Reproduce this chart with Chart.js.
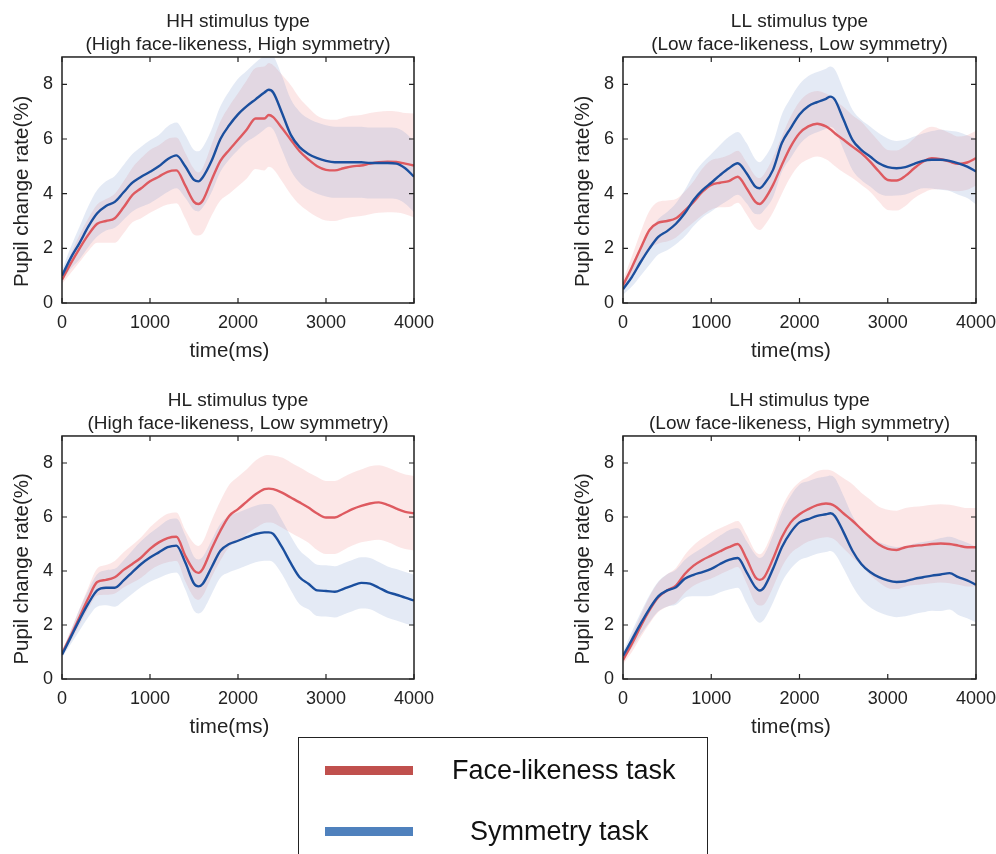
<!DOCTYPE html>
<html>
<head>
<meta charset="utf-8">
<script src="https://cdn.jsdelivr.net/npm/chart.js@4"></script>
<style>
  html, body { margin: 0; padding: 0; background: #fff; overflow: hidden; }
  body { width: 996px; height: 854px; position: relative; font-family: 'Liberation Sans', Arial, sans-serif; }
  .panel { position: absolute; }
  .legend {
    position: absolute; left: 298px; top: 737px; width: 410px; height: 140px;
    border: 1.5px solid #222; box-sizing: border-box;
  }
  .legend .bar { position: absolute; left: 26px; width: 88px; height: 9px; }
  .legend .txt { position: absolute; font-size: 27px; color: #111; line-height: 30px; white-space: nowrap; }
</style>
</head>
<body>

<div class="panel" style="left:0;top:0"><canvas id="hh" width="440" height="372"></canvas></div>
<div class="panel" style="left:561px;top:0"><canvas id="ll" width="435" height="372"></canvas></div>
<div class="panel" style="left:0;top:379px"><canvas id="hl" width="440" height="369"></canvas></div>
<div class="panel" style="left:561px;top:379px"><canvas id="lh" width="435" height="369"></canvas></div>

<div class="legend">
  <div class="bar" style="top:28px;background:#c0504d"></div>
  <div class="txt" style="left:153px;top:17px">Face-likeness task</div>
  <div class="bar" style="top:89px;background:#4f81bd"></div>
  <div class="txt" style="left:171px;top:78px">Symmetry task</div>
</div>

<script>
// ── Data (time in ms, pupil change rate in %) ─────────
const TIMES = [0,100,200,300,400,500,600,700,800,900,1000,1100,1200,1300,1400,1500,1550,1600,
  1700,1800,1900,2000,2100,2200,2300,2350,2400,2500,2600,2700,2800,2900,3000,3100,3200,3300,
  3400,3500,3600,3700,3800,3900,4000];

// HH
const HH_FACE = [0.85,1.45,2.0,2.5,2.9,3.0,3.1,3.5,3.95,4.2,4.45,4.62,4.8,4.85,4.3,3.7,3.62,3.75,
  4.5,5.2,5.6,5.97,6.35,6.75,6.75,6.88,6.8,6.4,5.97,5.55,5.25,5.0,4.87,4.85,4.93,5.0,
  5.03,5.1,5.15,5.17,5.16,5.1,5.03];
const HH_SYM = [1.0,1.65,2.2,2.8,3.28,3.55,3.7,4.05,4.4,4.62,4.8,5.0,5.26,5.4,5.0,4.5,4.45,4.6,
  5.2,6.0,6.5,6.9,7.2,7.45,7.7,7.8,7.7,6.95,6.15,5.7,5.45,5.3,5.2,5.15,5.15,5.15,
  5.15,5.12,5.12,5.12,5.1,4.93,4.62];
const HH_FACE_SE = [0.15,0.35,0.5,0.6,0.7,0.8,0.9,0.95,1.0,1.1,1.15,1.15,1.2,1.2,1.2,1.2,1.15,1.2,
  1.3,1.45,1.6,1.7,1.8,1.85,1.9,1.9,1.9,1.95,2.0,1.95,1.9,1.85,1.85,1.85,1.85,1.85,
  1.85,1.85,1.85,1.85,1.85,1.85,1.9];
const HH_SYM_SE = [0.2,0.4,0.6,0.75,0.85,0.9,0.95,1.0,1.05,1.1,1.15,1.15,1.2,1.2,1.15,1.1,1.1,1.1,
  1.15,1.2,1.25,1.3,1.3,1.35,1.35,1.35,1.35,1.35,1.3,1.3,1.3,1.3,1.3,1.3,1.3,1.3,
  1.3,1.3,1.3,1.3,1.3,1.3,1.3];

// LL
const LL_FACE = [0.65,1.3,2.0,2.67,2.94,3.0,3.1,3.38,3.7,4.07,4.32,4.4,4.46,4.62,4.2,3.7,3.62,3.77,
  4.32,5.05,5.72,6.21,6.46,6.56,6.46,6.35,6.21,5.97,5.72,5.48,5.17,4.81,4.5,4.48,4.65,4.93,
  5.17,5.3,5.26,5.17,5.09,5.14,5.3];
const LL_SYM = [0.5,0.95,1.5,2.0,2.42,2.63,2.9,3.28,3.77,4.13,4.4,4.68,4.93,5.11,4.75,4.26,4.2,4.35,
  4.87,5.85,6.4,6.9,7.2,7.35,7.47,7.55,7.44,6.7,5.97,5.6,5.36,5.11,4.97,4.93,4.97,5.09,
  5.2,5.24,5.24,5.2,5.11,4.99,4.81];
const LL_FACE_SE = [0.2,0.4,0.6,0.7,0.76,0.75,0.7,0.7,0.75,0.85,0.9,0.9,0.95,0.95,0.95,0.95,0.95,0.95,
  1.0,1.05,1.1,1.15,1.2,1.2,1.2,1.2,1.2,1.2,1.15,1.15,1.1,1.1,1.1,1.1,1.1,1.1,
  1.15,1.15,1.1,1.05,1.0,1.0,1.0];
const LL_SYM_SE = [0.2,0.35,0.5,0.6,0.65,0.7,0.75,0.85,0.95,1.0,1.05,1.1,1.15,1.15,1.1,1.0,0.95,0.95,
  1.0,1.05,1.1,1.1,1.1,1.1,1.1,1.1,1.1,1.1,1.1,1.1,1.1,1.1,1.05,1.0,1.0,1.0,
  1.0,1.05,1.1,1.1,1.15,1.15,1.2];

// HL
const HL_FACE = [0.95,1.6,2.3,3.0,3.59,3.67,3.77,4.04,4.26,4.5,4.82,5.06,5.22,5.27,4.57,4.02,3.93,4.08,
  4.82,5.49,6.04,6.29,6.57,6.84,7.03,7.05,7.03,6.9,6.72,6.54,6.35,6.13,5.98,5.98,6.13,6.29,
  6.41,6.5,6.54,6.45,6.31,6.19,6.14];
const HL_SYM = [0.9,1.55,2.2,2.8,3.28,3.38,3.38,3.65,3.96,4.26,4.5,4.69,4.88,4.94,4.32,3.53,3.43,3.53,
  4.14,4.75,5.0,5.12,5.25,5.37,5.43,5.43,5.37,4.88,4.29,3.77,3.53,3.28,3.26,3.23,3.34,3.46,
  3.56,3.53,3.38,3.22,3.12,3.01,2.91];
const HL_FACE_SE = [0.1,0.2,0.3,0.4,0.5,0.55,0.6,0.65,0.7,0.75,0.8,0.85,0.9,0.9,0.95,1.0,1.0,1.0,
  1.05,1.1,1.15,1.2,1.2,1.25,1.25,1.25,1.25,1.3,1.3,1.3,1.3,1.35,1.35,1.35,1.35,1.35,
  1.35,1.38,1.38,1.38,1.38,1.38,1.38];
const HL_SYM_SE = [0.1,0.25,0.4,0.5,0.6,0.65,0.7,0.75,0.8,0.85,0.9,0.95,1.0,1.0,1.0,1.0,1.0,1.0,
  1.0,1.0,1.05,1.05,1.05,1.05,1.05,1.05,1.05,1.0,1.0,1.0,0.95,0.95,0.95,0.95,0.95,0.95,
  0.95,0.95,0.95,0.95,0.95,0.95,0.95];

// LH
const LH_FACE = [0.7,1.3,1.95,2.55,3.03,3.28,3.46,3.89,4.2,4.41,4.57,4.73,4.88,5.0,4.45,3.77,3.67,3.77,
  4.45,5.25,5.8,6.1,6.29,6.44,6.5,6.48,6.41,6.13,5.86,5.55,5.25,4.98,4.82,4.78,4.88,4.93,
  4.96,5.0,5.02,5.0,4.94,4.88,4.88];
const LH_SYM = [0.85,1.45,2.05,2.6,3.06,3.28,3.4,3.71,3.86,3.96,4.08,4.26,4.41,4.48,3.96,3.4,3.28,3.4,
  4.08,4.88,5.43,5.8,5.92,6.04,6.1,6.14,6.04,5.43,4.75,4.26,3.96,3.77,3.65,3.59,3.62,3.71,
  3.77,3.83,3.87,3.92,3.77,3.65,3.49];
const LH_FACE_SE = [0.15,0.3,0.4,0.5,0.55,0.6,0.65,0.7,0.75,0.8,0.85,0.85,0.85,0.85,0.9,0.95,0.95,1.0,
  1.05,1.1,1.15,1.2,1.2,1.25,1.25,1.25,1.25,1.3,1.35,1.35,1.4,1.4,1.45,1.45,1.45,1.45,
  1.45,1.45,1.45,1.45,1.45,1.45,1.45];
const LH_SYM_SE = [0.15,0.3,0.4,0.5,0.55,0.6,0.65,0.7,0.8,0.9,1.0,1.05,1.1,1.1,1.15,1.2,1.2,1.2,
  1.25,1.3,1.35,1.4,1.4,1.4,1.4,1.4,1.4,1.35,1.3,1.3,1.3,1.3,1.3,1.3,1.3,1.3,
  1.3,1.3,1.35,1.35,1.4,1.4,1.4];

const X_TICKS = [0, 1000, 2000, 3000, 4000];
const Y_TICKS = [0, 2, 4, 6, 8];

const FACE_LINE = '#de5a60', SYM_LINE = '#1b4f9e';
const FACE_BAND = 'rgba(240,120,120,0.18)', SYM_BAND = 'rgba(120,150,205,0.2)';
const FONT = "'Liberation Sans', Arial, sans-serif";

// MATLAB-ish box with inward ticks on all four sides
const framePlugin = {
  id: 'frame',
  afterDraw(chart) {
    const { ctx, chartArea: a, scales: { x, y } } = chart;
    ctx.save();
    ctx.strokeStyle = '#222';
    ctx.lineWidth = 1.5;
    ctx.strokeRect(a.left, a.top, a.width, a.height);
    ctx.lineWidth = 1.2;
    ctx.beginPath();
    X_TICKS.forEach(v => {
      const px = x.getPixelForValue(v);
      ctx.moveTo(px, a.bottom); ctx.lineTo(px, a.bottom - 5);
      ctx.moveTo(px, a.top);    ctx.lineTo(px, a.top + 5);
    });
    Y_TICKS.forEach(v => {
      const py = y.getPixelForValue(v);
      ctx.moveTo(a.left, py);  ctx.lineTo(a.left + 5, py);
      ctx.moveTo(a.right, py); ctx.lineTo(a.right - 5, py);
    });
    ctx.stroke();
    ctx.restore();
  }
};

const pts = arr => TIMES.map((t, i) => ({ x: t, y: arr[i] }));
const shift = (mean, se, s) => mean.map((v, i) => v + s * se[i]);

function renderPanel(id, title, face, faceSe, sym, symSe, padRight) {
  const base = { pointRadius: 0, borderWidth: 0, cubicInterpolationMode: 'monotone' };
  new Chart(document.getElementById(id), {
    type: 'line',
    data: {
      datasets: [
        { ...base, data: pts(shift(face, faceSe, 1)),  fill: '+1', backgroundColor: FACE_BAND, order: 3 },
        { ...base, data: pts(shift(face, faceSe, -1)), fill: false, order: 3 },
        { ...base, data: pts(shift(sym, symSe, 1)),    fill: '+1', backgroundColor: SYM_BAND, order: 2 },
        { ...base, data: pts(shift(sym, symSe, -1)),   fill: false, order: 2 },
        { ...base, data: pts(face), borderColor: FACE_LINE, borderWidth: 2.4, fill: false, order: 1 },
        { ...base, data: pts(sym),  borderColor: SYM_LINE,  borderWidth: 2.4, fill: false, order: 0 },
      ],
    },
    options: {
      responsive: false,
      animation: false,
      layout: { padding: { left: 0, right: padRight, top: 0, bottom: 0 } },
      plugins: {
        legend: { display: false },
        tooltip: { enabled: false },
        title: {
          display: true, text: title, fullSize: false, color: '#222',
          font: { family: FONT, size: 19, weight: 'normal', lineHeight: 1.21 },
          padding: { top: 10, bottom: 1 },
        },
      },
      scales: {
        x: {
          type: 'linear', min: 0, max: 4000,
          afterFit: s => { s.height = 69; s.paddingLeft = 0; s.paddingRight = 0; },
          afterBuildTicks: s => { s.ticks = X_TICKS.map(v => ({ value: v })); },
          grid: { display: false, drawTicks: false },
          border: { display: false },
          ticks: { color: '#222', padding: 9, maxRotation: 0, autoSkip: false,
                   callback: v => String(v), font: { family: FONT, size: 18 } },
          title: { display: true, text: 'time(ms)\u00a0\u00a0\u00a0', color: '#222', padding: { top: 0, bottom: 8 },
                   font: { family: FONT, size: 20.5 } },
        },
        y: {
          min: 0, max: 9,
          afterFit: s => { s.width = 62; },
          afterBuildTicks: s => { s.ticks = Y_TICKS.map(v => ({ value: v })); },
          grid: { display: false, drawTicks: false },
          border: { display: false },
          ticks: { color: '#222', padding: 9, callback: v => String(v), font: { family: FONT, size: 18 } },
          title: { display: true, text: 'Pupil change rate(%)\u00a0\u00a0\u00a0\u00a0', color: '#222',
                   padding: { top: 10, bottom: 0 }, font: { family: FONT, size: 20.5 } },
        },
      },
    },
    plugins: [framePlugin],
  });
}

renderPanel('hh', ['HH stimulus type', '(High face-likeness, High symmetry)'], HH_FACE, HH_FACE_SE, HH_SYM, HH_SYM_SE, 26);
renderPanel('ll', ['LL stimulus type', '(Low face-likeness, Low symmetry)'],   LL_FACE, LL_FACE_SE, LL_SYM, LL_SYM_SE, 20);
renderPanel('hl', ['HL stimulus type', '(High face-likeness, Low symmetry)'],  HL_FACE, HL_FACE_SE, HL_SYM, HL_SYM_SE, 26);
renderPanel('lh', ['LH stimulus type', '(Low face-likeness, High symmetry)'],  LH_FACE, LH_FACE_SE, LH_SYM, LH_SYM_SE, 20);
</script>
</body>
</html>
